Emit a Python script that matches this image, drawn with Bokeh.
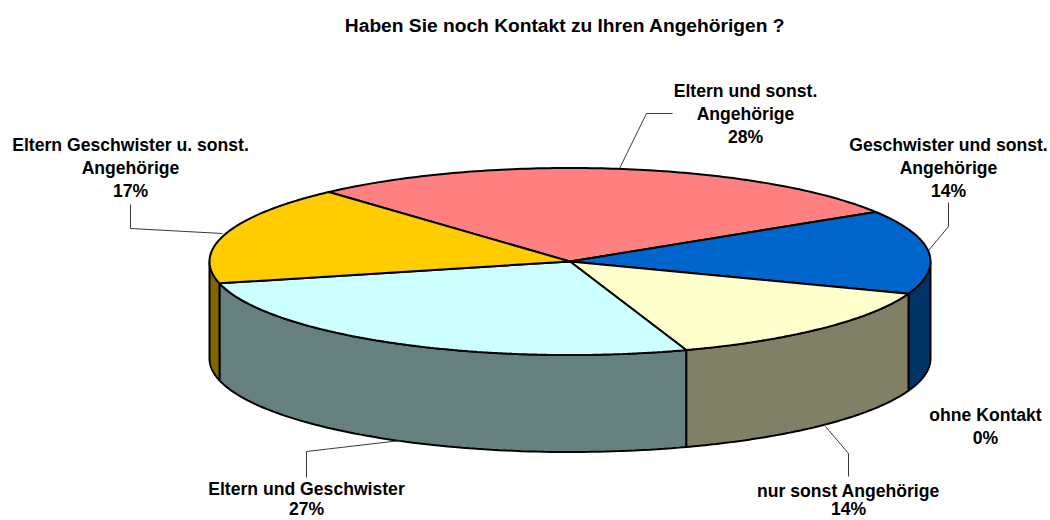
import numpy as np
from bokeh.plotting import figure
from bokeh.models import Range1d
from bokeh.core.properties import value
from bokeh.embed import file_html
from bokeh.resources import INLINE

title = "Haben Sie noch Kontakt zu Ihren Angehörigen ?"
categories = ["Eltern und sonst. Angehörige", "Geschwister und sonst. Angehörige", "ohne Kontakt",
              "nur sonst Angehörige", "Eltern und Geschwister", "Eltern Geschwister u. sonst. Angehörige"]
shares = [27.8, 14.5, 0.0, 14.2, 26.5, 17.1]
percent_labels = ["28%", "14%", "0%", "14%", "27%", "17%"]
top_colors = ["#FF8080", "#0066CC", "#FFFFFF", "#FFFFCC", "#CCFFFF", "#FFCC00"]
wall_colors = ["#804040", "#003366", "#808080", "#808066", "#668080", "#806600"]

label_lines = [
    ["Eltern und sonst.", "Angehörige"],
    ["Geschwister und sonst.", "Angehörige"],
    ["ohne Kontakt"],
    ["nur sonst Angehörige"],
    ["Eltern und Geschwister"],
    ["Eltern Geschwister u. sonst.", "Angehörige"],
]
label_centers = [745, 948, 985, 848, 306, 130]
label_tops = [90, 144, 414, 490, 488, 144]
label_line_heights = [23.3, 23.3, 23.3, 18.5, 20.5, 23.3]
leaders = [
    ([672, 646, 619], [113, 113, 168]),
    ([948, 948, 928], [202, 226, 250]),
    None,
    ([848, 848, 825], [476, 453, 426]),
    ([306, 306, 400], [477, 451, 440]),
    ([130, 130, 222], [204, 228, 233]),
]

CX, CY, RX, RY, DEPTH = 569.5, 261, 360.5, 93.5, 97
START = 132.0

p = figure(width=1050, height=520, x_range=Range1d(0, 1050), y_range=Range1d(520, 0),
           toolbar_location=None, output_backend="svg", min_border=0,
           outline_line_color=None, background_fill_color="white", border_fill_color="white")
p.axis.visible = False
p.grid.visible = False

def ex(a):
    return CX + RX * np.cos(np.radians(a))

def ey(a):
    return CY - RY * np.sin(np.radians(a))

total = sum(shares)
spans = [360 * s / total for s in shares]
angles = [START]
for s in spans:
    angles.append(angles[-1] - s)

# side walls (front half only, angles run clockwise)
for i, s in enumerate(spans):
    if s == 0:
        continue
    a0, a1 = angles[i], angles[i + 1]
    for k in (-1, 0):
        lo = max(a1, -180 + 360 * k)
        hi = min(a0, 360 * k)
        if hi <= lo:
            continue
        t = np.linspace(hi, lo, 80)
        xs = np.concatenate([ex(t), ex(t[::-1])])
        ys = np.concatenate([ey(t), ey(t[::-1]) + DEPTH])
        p.patch(xs, ys, fill_color=wall_colors[i], line_color="black", line_width=2)

# top faces
for i, s in enumerate(spans):
    if s == 0:
        continue
    t = np.linspace(angles[i], angles[i + 1], 120)
    xs = np.concatenate([[CX], ex(t)])
    ys = np.concatenate([[CY], ey(t)])
    p.patch(xs, ys, fill_color=top_colors[i], line_color="black", line_width=2)

# leader lines
for lead in leaders:
    if lead:
        p.line(lead[0], lead[1], line_color="#222222", line_width=0.9)

def txt(x, y, s, size="17.6px"):
    p.text([x], [y], text=[s], text_font=value("Liberation Sans"), text_font_style="bold",
           text_font_size=size, text_color="black", text_align="center", text_baseline="middle")

txt(564.5, 25, title, "19.2px")
for lines, pct, cx, top, lh in zip(label_lines, percent_labels, label_centers, label_tops, label_line_heights):
    for j, s in enumerate(lines + [pct]):
        txt(cx, top + j * lh, s)

open("out.html", "w").write(file_html(p, INLINE))
